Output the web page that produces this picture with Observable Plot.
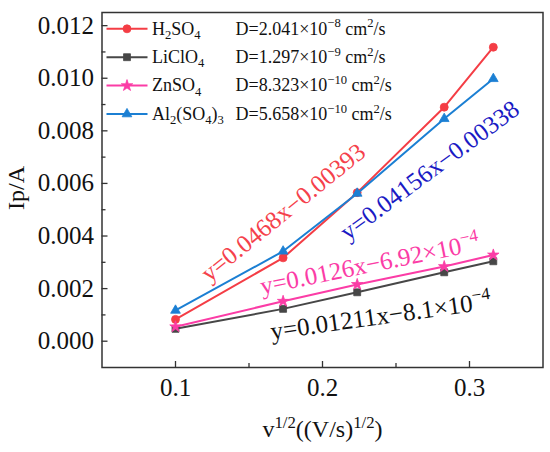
<!DOCTYPE html>
<html><head><meta charset="utf-8">
<script src="https://cdn.jsdelivr.net/npm/d3@7"></script>
<script src="https://cdn.jsdelivr.net/npm/@observablehq/plot@0.6"></script>
<style>
html,body{margin:0;padding:0;background:#fff;}
#chart{width:550px;height:452px;}
#chart svg text{font-family:"Liberation Serif","Times New Roman",Times,serif;}
</style>
</head><body><div id="chart"></div>
<script>
// ---------- data ----------
const series = ["H2SO4", "LiClO4", "ZnSO4", "Al2(SO4)3"];
const seriesLabels = ["H_2SO_4", "LiClO_4", "ZnSO_4", "Al_2(SO_4)_3"];
const diffusionLabels = [
  "D=2.041×10^{−8} cm^2/s",
  "D=1.297×10^{−9} cm^2/s",
  "D=8.323×10^{−10} cm^2/s",
  "D=5.658×10^{−10} cm^2/s"
];
const sqrtScanRate = [0.1, 0.1732, 0.2236, 0.2828, 0.3162];
const ipH2SO4  = [0.00083, 0.00317, 0.00565, 0.00890, 0.01118];
const ipLiClO4 = [0.00047, 0.00123, 0.00186, 0.00262, 0.00304];
const ipZnSO4  = [0.00055, 0.00152, 0.00216, 0.00284, 0.00328];
const ipAl2SO4 = [0.00117, 0.00342, 0.00562, 0.00846, 0.00998];
const equations = [
  "y=0.0468x−0.00393",
  "y=0.04156x−0.00338",
  "y=0.0126x−6.92×10^{−4}",
  "y=0.01211x−8.1×10^{−4}"
];
const xTicks = [0.1, 0.2, 0.3];
const xMinorTicks = [0.15, 0.25];
const yTicks = [0, 0.002, 0.004, 0.006, 0.008, 0.010, 0.012];
const yMinorTicks = [0.001, 0.003, 0.005, 0.007, 0.009, 0.011];

// ---------- styles ----------
const colors = ["#f43d45", "#474747", "#fb3ca6", "#1b7fd3"];
const symbols = ["circle", "square", "star", "triangle"];
const symbolR = [4, 3.9, 3.6, 3.6];
const eqStyle = [
  {x: 0.1732, y: 0.00489, rotate: -39, fill: "#f5414b"},
  {x: 0.2729, y: 0.00649, rotate: -36.6, fill: "#1a1ac4"},
  {x: 0.2322, y: 0.00292, rotate: -11.5, fill: "#fb3ca6"},
  {x: 0.2397, y: 0.00095, rotate: -8, fill: "#111111"}
];

const ipValues = [ipH2SO4, ipLiClO4, ipZnSO4, ipAl2SO4];
const table = series.flatMap((s, i) => sqrtScanRate.map((x, j) => ({series: s, x, y: ipValues[i][j]})));

const W = 550, H = 452;
const mL = 101.5, mR = 7.5, mT = 12, mB = 85;
const innerW = W - mL - mR, innerH = H - mT - mB;
const font = "Liberation Serif, Times New Roman, serif";

const legendLine = {draw(ctx) { ctx.moveTo(-20.5, 0); ctx.lineTo(20.5, 0); }};

const marks = [];
// ticks (inward)
marks.push(Plot.tickX(xTicks, {x: d => d, insetTop: innerH - 6, stroke: "#333", strokeWidth: 1.3}));
marks.push(Plot.tickX(xMinorTicks, {x: d => d, insetTop: innerH - 4, stroke: "#333", strokeWidth: 1.3}));
marks.push(Plot.tickY(yTicks, {y: d => d, insetRight: innerW - 6, stroke: "#333", strokeWidth: 1.3}));
marks.push(Plot.tickY(yMinorTicks, {y: d => d, insetRight: innerW - 4, stroke: "#333", strokeWidth: 1.3}));
marks.push(Plot.axisX(xTicks, {tickFormat: d3.format(".1f"), tickSize: 0, tickPadding: 11, label: null, fontSize: 25}));
marks.push(Plot.axisY(yTicks, {tickFormat: d3.format(".3f"), tickSize: 0, tickPadding: 8, label: null, fontSize: 25}));

// series
series.forEach((s, i) => {
  const d = table.filter(r => r.series === s);
  marks.push(Plot.line(d, {x: "x", y: "y", stroke: colors[i], strokeWidth: 2}));
  marks.push(Plot.dot(d, {x: "x", y: "y", symbol: symbols[i], r: symbolR[i], fill: colors[i], stroke: colors[i], strokeWidth: 0.8}));
});

// equations
equations.forEach((t, i) => {
  const e = eqStyle[i];
  marks.push(Plot.text([t], {x: () => e.x, y: () => e.y, text: d => d, rotate: e.rotate, fill: e.fill, fontSize: 25, lineAnchor: "middle", textAnchor: "middle"}));
});

// legend
series.forEach((s, i) => {
  const dy = 16.3 + 28.4 * i;
  marks.push(Plot.dot([s], {frameAnchor: "top-left", dx: 25, dy, symbol: legendLine, stroke: colors[i], strokeWidth: 2, fill: "none"}));
  marks.push(Plot.dot([s], {frameAnchor: "top-left", dx: 25, dy, symbol: symbols[i], r: symbolR[i], fill: colors[i], stroke: colors[i], strokeWidth: 0.8}));
  marks.push(Plot.text([seriesLabels[i]], {frameAnchor: "top-left", dx: 50, dy, text: d => d, textAnchor: "start", lineAnchor: "middle", fontSize: 18, fill: "#111"}));
  marks.push(Plot.text([diffusionLabels[i]], {frameAnchor: "top-left", dx: 133.5, dy, text: d => d, textAnchor: "start", lineAnchor: "middle", fontSize: 18, fill: "#111"}));
});

// axis labels
marks.push(Plot.text(["v^{1/2}((V/s)^{1/2})"], {frameAnchor: "bottom", dy: 62, text: d => d, textAnchor: "middle", lineAnchor: "middle", fontSize: 24, fill: "#111"}));
marks.push(Plot.text(["Ip/A"], {frameAnchor: "left", dx: -86, dy: -2, rotate: -90, text: d => d, textAnchor: "middle", lineAnchor: "middle", fontSize: 24, fill: "#111"}));

marks.push(Plot.frame({stroke: "#333", strokeWidth: 1.5}));

const svg = Plot.plot({
  width: W, height: H,
  marginLeft: mL, marginRight: mR, marginTop: mT, marginBottom: mB,
  x: {domain: [0.05, 0.35]},
  y: {domain: [-0.001, 0.0125]},
  style: {fontFamily: font, fontSize: "24px", color: "#111", background: "#fff"},
  marks
});

// render _sub and ^sup markup as tspans
function parseMarkup(s) {
  const parts = [];
  let i = 0, cur = "";
  while (i < s.length) {
    const c = s[i];
    if ((c === "_" || c === "^") && i + 1 < s.length) {
      if (cur) { parts.push({t: cur, k: "n"}); cur = ""; }
      let content;
      if (s[i + 1] === "{") {
        const end = s.indexOf("}", i + 2);
        content = s.slice(i + 2, end);
        i = end + 1;
      } else {
        content = s[i + 1];
        i += 2;
      }
      parts.push({t: content, k: c === "_" ? "sub" : "sup"});
    } else { cur += c; i++; }
  }
  if (cur) parts.push({t: cur, k: "n"});
  return parts;
}
const NS = "http://www.w3.org/2000/svg";
svg.querySelectorAll("text").forEach(el => {
  el.setAttribute("font-family", font);
  const s = el.textContent;
  if (!/[_^]/.test(s) || el.children.length) return;
  const parts = parseMarkup(s);
  el.textContent = "";
  let shift = 0;
  parts.forEach(p => {
    const ts = document.createElementNS(NS, "tspan");
    ts.textContent = p.t;
    if (p.k === "n") {
      if (shift !== 0) ts.setAttribute("dy", (-shift) + "em");
      shift = 0;
    } else {
      const target = p.k === "sub" ? 0.25 : -0.4;
      const scale = 0.7;
      ts.setAttribute("font-size", "70%");
      ts.setAttribute("dy", ((target - shift) / scale).toFixed(3) + "em");
      shift = target;
    }
    el.appendChild(ts);
  });
});

document.getElementById("chart").appendChild(svg);
</script>
</body></html>
